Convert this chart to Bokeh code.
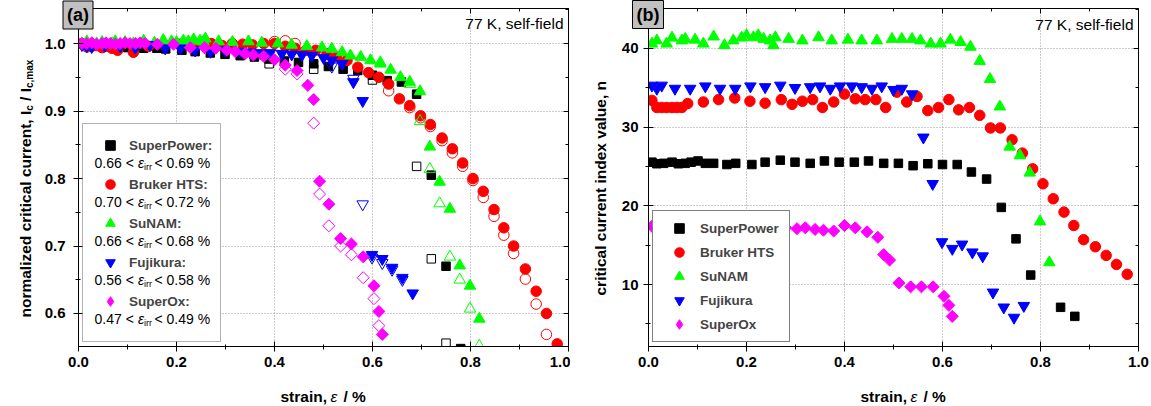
import numpy as np
from bokeh.plotting import figure
from bokeh.models import (Range1d, FixedTicker, LinearAxis, Label, Legend, LegendItem,
                          BoxAnnotation, PrintfTickFormatter)
from bokeh.core.properties import value
from bokeh.layouts import row
from bokeh.embed import file_html
from bokeh.resources import INLINE

FONT = "Liberation Sans"
nan = np.nan

# ---------------- data ----------------
names = ["SuperPower", "Bruker HTS", "SuNAM", "Fujikura", "SuperOx"]
colors = ["#000000", "#ff0000", "#00ff00", "#0000ff", "#ff00ff"]
eirr_lo = [0.66, 0.70, 0.66, 0.56, 0.47]
eirr_hi = [0.69, 0.72, 0.68, 0.58, 0.49]

sp_strain = [0.007, 0.017, 0.031, 0.048, 0.061, 0.075, 0.087, 0.101, 0.116, 0.133, 0.16, 0.178,
             0.211, 0.238, 0.269, 0.299, 0.33, 0.359, 0.389, 0.42, 0.449, 0.48, 0.51, 0.54, 0.57,
             0.6, 0.63, 0.659, 0.69, 0.72, 0.75, 0.78, 0.841, 0.87]
sp_ic = [1.0, 0.998, 0.997, 0.996, 0.996, 0.995, 0.995, 0.994, 0.994, 0.993, 0.993, 0.992,
         0.99, 0.988, 0.986, 0.984, 0.982, 0.98, 0.977, 0.974, 0.972, 0.97, 0.966, 0.962, 0.96,
         0.953, 0.945, 0.943, 0.925, 0.805, 0.67, 0.548, nan, nan]
sp_n = [25.55, 25.35, 25.4, 25.55, 25.35, 25.4, 25.55, 25.7, 25.4, 25.4, 25.25, 25.4, 25.25,
        25.55, 25.8, 25.55, 25.4, 25.7, 25.55, 25.55, 25.7, 25.4, 25.4, 25.1, 25.35, 25.25,
        25.25, 24.3, 23.4, 19.8, 15.8, 11.2, 7.1, 5.95]
sp_open_strain = [0.389, 0.48, 0.6, 0.69, 0.72, 0.75]
sp_open_ic = [0.97, 0.962, 0.946, 0.818, 0.681, 0.556]

br_strain = [0.007, 0.017, 0.027, 0.037, 0.048, 0.058, 0.068, 0.08, 0.112, 0.143, 0.176, 0.207,
             0.238, 0.271, 0.293, 0.314, 0.335, 0.355, 0.378, 0.4, 0.422, 0.442, 0.464, 0.484,
             0.507, 0.527, 0.548, 0.57, 0.592, 0.613, 0.633, 0.655, 0.676, 0.698, 0.718, 0.742,
             0.763, 0.784, 0.805, 0.826, 0.848, 0.868, 0.888, 0.912, 0.934, 0.955, 0.977]
br_ic = [1.0, 0.995, 0.996, 0.997, 0.994, 0.996, 0.993, 0.99, 0.987, 0.996, 0.998, 0.999,
         0.998, 1.0, 0.997, 1.0, 0.999, 0.998, 1.0, 1.0, 0.996, 0.993, 0.99, 0.99,
         0.985, 0.98, 0.975, 0.965, 0.957, 0.95, 0.94, 0.918, 0.908, 0.893, 0.88, 0.86,
         0.844, 0.823, 0.80, 0.781, 0.754, 0.727, 0.70, 0.666, 0.633, 0.60, 0.555]
br_n = [33.4, 32.5, 32.5, 32.5, 32.5, 32.5, 32.5, 33.0, 33.2, 33.5, 33.7, 33.3,
        33.05, 33.5, 32.9, 33.3, 33.5, 32.5, 33.2, 34.2, 33.6, 33.5, 33.5, 32.5,
        34.45, 33.2, 33.9, 32.1, 32.5, 33.5, 32.2, 32.5, 31.5, 29.9, 29.9, 28.4,
        26.7, 24.7, 22.8, 20.9, 19.2, 17.5, 15.7, 14.8, 13.7, 12.55, 11.3]
br_open_strain = [0.4, 0.422, 0.442, 0.633, 0.676, 0.698, 0.718, 0.742, 0.763, 0.784, 0.805,
                  0.826, 0.848, 0.868, 0.888, 0.912, 0.934, 0.955]
br_open_ic = [1.003, 1.004, 1.0, 0.93, 0.905, 0.89, 0.877, 0.856, 0.838, 0.818, 0.797,
              0.772, 0.744, 0.716, 0.689, 0.651, 0.614, 0.569]

su_strain = [0.007, 0.017, 0.037, 0.048, 0.068, 0.075, 0.095, 0.112, 0.133, 0.155, 0.173, 0.19,
             0.2, 0.214, 0.224, 0.235, 0.248, 0.255, 0.259, 0.286, 0.314, 0.347, 0.374, 0.407,
             0.435, 0.466, 0.497, 0.517, 0.538, 0.555, 0.576, 0.596, 0.616, 0.637, 0.657, 0.676,
             0.697, 0.717, 0.737, 0.758, 0.778, 0.799, 0.818]
su_ic = [1.0, 1.003, 1.0, 1.002, 1.0, 1.003, 1.002, 1.0, 1.004, 1.001, 1.005, 1.003,
         1.002, 1.004, 1.003, 1.006, 1.004, 1.003, 1.007, 1.003, 1.002, 1.003, 1.001, 1.0,
         0.998, 0.996, 0.994, 0.992, 0.987, 0.982, 0.98, 0.975, 0.97, 0.961, 0.95, 0.943,
         0.929, 0.847, 0.795, 0.755, 0.671, 0.641, 0.592]
su_n = [40.6, 41.0, 40.6, 41.36, 41.0, 41.2, 41.1, 40.6, 41.5, 40.4, 41.0, 41.36,
        41.65, 41.4, 41.65, 41.2, 41.0, 40.4, 41.4, 41.2, 41.0, 41.4, 41.0, 41.1,
        41.0, 41.0, 41.2, 41.2, 41.2, 41.0, 40.6, 40.6, 41.1, 40.8, 40.2, 38.4,
        36.1, 32.6, 27.5, 26.4, 24.2, 18.0, 12.8]
su_open_strain = [0.616, 0.676, 0.697, 0.717, 0.737, 0.758, 0.778, 0.799, 0.818]
su_open_ic = [0.972, 0.94, 0.885, 0.814, 0.763, 0.684, 0.65, 0.607, 0.552]

fu_strain = [0.007, 0.017, 0.027, 0.054, 0.085, 0.116, 0.146, 0.177, 0.208, 0.238, 0.269, 0.299,
             0.33, 0.35, 0.371, 0.391, 0.415, 0.435, 0.456, 0.476, 0.5, 0.517, 0.538, 0.561,
             0.58, 0.599, 0.62, 0.64, 0.661, 0.682, 0.703, 0.725, 0.746, 0.766]
fu_ic = [0.998, 0.996, 0.995, 0.997, 0.996, 0.994, 0.998, 0.993, 0.993, 0.99, 0.988, 0.99,
         0.988, 0.987, 0.986, 0.986, 0.985, 0.984, 0.983, 0.982, 0.979, 0.975, 0.97, 0.943,
         0.915, 0.687, 0.681, 0.668, 0.653, 0.63, nan, nan, nan, nan]
fu_n = [35.3, 34.9, 35.3, 34.9, 34.9, 35.2, 34.9, 34.9, 35.2, 35.1, 35.3, 35.0,
        35.1, 35.2, 34.9, 35.2, 35.2, 35.1, 34.9, 35.2, 34.75, 34.9, 34.2, 28.7,
        22.8, 15.4, 14.55, 15.1, 14.1, 13.6, 9.0, 7.1, 5.8, 7.3]
fu_open_strain = [0.517, 0.561, 0.58, 0.599, 0.62, 0.64, 0.661]
fu_open_ic = [0.966, 0.948, 0.762, 0.683, 0.675, 0.665, 0.65]

so_strain = [0.007, 0.017, 0.027, 0.037, 0.048, 0.056, 0.065, 0.075, 0.085, 0.095, 0.105, 0.116,
             0.126, 0.136, 0.161, 0.194, 0.228, 0.257, 0.28, 0.303, 0.32, 0.34, 0.357, 0.378,
             0.4, 0.422, 0.446, 0.468, 0.48, 0.492, 0.511, 0.535, 0.557, 0.581, 0.603, 0.613, 0.62]
so_ic = [1.0, 1.0, 1.001, 0.999, 1.0, 1.001, 1.0, 0.999, 1.0, 1.001, 1.0, 1.0,
         1.001, 1.0, 0.999, 0.999, 0.994, 0.994, 0.993, 0.99, 0.988, 0.985, 0.983, 0.981,
         0.976, 0.968, 0.96, 0.938, 0.917, 0.796, 0.762, 0.711, 0.703, 0.684, 0.641, 0.603, 0.569]
so_n = [17.4, 17.3, 17.5, 17.2, 17.4, 17.7, 17.1, 16.9, 17.2, 17.3, 17.1, 17.4,
        17.5, 17.0, 16.7, 16.8, 16.7, 16.9, 17.2, 17.1, 17.2, 17.0, 16.9, 16.8,
        17.5, 17.2, 16.7, 16.0, 13.8, 13.1, 10.2, 9.7, 9.7, 9.7, 8.5, 7.35, 5.95]
so_open_strain = [0.422, 0.446, 0.48, 0.492, 0.511, 0.535, 0.557, 0.581, 0.603, 0.613]
so_open_ic = [0.962, 0.955, 0.882, 0.777, 0.73, 0.70, 0.687, 0.653, 0.622, 0.582]

strains = [sp_strain, br_strain, su_strain, fu_strain, so_strain]
ics = [sp_ic, br_ic, su_ic, fu_ic, so_ic]
ns = [sp_n, br_n, su_n, fu_n, so_n]
open_strains = [sp_open_strain, br_open_strain, su_open_strain, fu_open_strain, so_open_strain]
open_ics = [sp_open_ic, br_open_ic, su_open_ic, fu_open_ic, so_open_ic]

x_ticks = [0.0, 0.2, 0.4, 0.6, 0.8, 1.0]
x_minor = [0.1, 0.3, 0.5, 0.7, 0.9]
ya_ticks = [0.6, 0.7, 0.8, 0.9, 1.0]
ya_minor = [0.55, 0.65, 0.75, 0.85, 0.95, 1.05]
yb_ticks = [10, 20, 30, 40]
yb_minor = [5, 15, 25, 35, 45]

YA = (0.5511, 1.0519)
YB = (2.12, 45.08)

# marker styles: (marker, size, angle)
mstyle = [("square", 8.5, 0.0), ("circle", 10.5, 0.0), ("triangle", 11.5, 0.0),
          ("inverted_triangle", 11.5, 0.0), ("square", 8.5, np.pi / 4)]


def mk_conv(L, yr):
    y0, y1 = yr
    fx = lambda px: (px - L) / 490.0
    fy = lambda py: y1 - (py - 8) / 338.0 * (y1 - y0)
    return fx, fy


def make_fig(width, left, right, yr, yt, ym, yfmt, ystand):
    p = figure(width=width, height=406, output_backend="svg", toolbar_location=None,
               x_range=Range1d(0, 1.0), y_range=Range1d(*yr),
               min_border_left=left, min_border_right=right, min_border_top=8,
               min_border_bottom=60)
    p.outline_line_color = "black"
    p.outline_line_width = 1
    xt = FixedTicker(ticks=x_ticks, minor_ticks=x_minor)
    ytk = FixedTicker(ticks=yt, minor_ticks=ym)
    for ax, tk in ((p.xaxis[0], xt), (p.yaxis[0], ytk)):
        ax.ticker = tk
        ax.axis_line_color = "black"
        ax.major_tick_line_color = "black"
        ax.minor_tick_line_color = "black"
        ax.major_tick_in = 5
        ax.major_tick_out = 5
        ax.minor_tick_in = 2
        ax.minor_tick_out = 3
        ax.major_label_text_font = FONT
        ax.major_label_text_font_style = "bold"
        ax.major_label_text_font_size = "15px"
        ax.major_label_text_color = "black"
    p.xaxis[0].formatter = PrintfTickFormatter(format="%.1f")
    p.yaxis[0].formatter = PrintfTickFormatter(format=yfmt)
    p.xaxis[0].major_label_standoff = 5
    p.yaxis[0].major_label_standoff = ystand
    for loc, tk in (("above", xt), ("right", ytk)):
        ax = LinearAxis(ticker=tk, major_label_text_font_size="1px", major_label_standoff=0,
                        major_label_text_color=None, major_label_text_alpha=0,
                        major_tick_in=5, major_tick_out=0, minor_tick_in=3, minor_tick_out=0,
                        axis_line_color="black", major_tick_line_color="black",
                        minor_tick_line_color="black")
        p.add_layout(ax, loc)
    p.xgrid.ticker = xt
    p.ygrid.ticker = ytk
    for g in (p.xgrid, p.ygrid):
        g.grid_line_color = "#999999"
        g.grid_line_dash = "1 2"
        g.grid_line_width = 1
    return p


def text(p, x, y, s, size, style="normal", align="left", baseline="middle", angle=0.0, **kw):
    p.add_layout(Label(x=x, y=y, text=s, text_font=FONT, text_font_size=size,
                       text_font_style=style, text_align=align, text_baseline=baseline,
                       angle=angle, text_color="black", **kw))


def otext(p, x, y, s, size, style="normal", align="left", baseline="middle", angle=0.0,
          xo=0.0, yo=0.0, **kw):
    # text glyph at overlay level (drawn outside the frame too)
    p.text(x=[x], y=[y], text=[s], text_font=value(FONT), text_font_size=size,
           text_font_style=style, text_align=align, text_baseline=baseline, angle=angle,
           x_offset=xo, y_offset=yo, text_color="black", level="overlay", **kw)


a90 = np.pi / 2

# ---------------- panel (a) ----------------
pa = make_fig(570, 78, 2, YA, ya_ticks, ya_minor, "%.1f", 8)
fx, fy = mk_conv(78, YA)
filled_a = []
for i in range(5):
    mk, sz, ang = mstyle[i]
    pa.scatter(open_strains[i], open_ics[i], marker=mk, size=sz, angle=ang,
               fill_color=None, line_color=colors[i], line_width=1)
    r = pa.scatter(strains[i], ics[i], marker=mk, size=sz, angle=ang,
                   fill_color=colors[i], line_color=colors[i], line_width=1)
    filled_a.append(r)
# legend swatch for the diamond series (legend does not rotate markers)
proxy_a = pa.scatter([nan], [nan], marker="diamond", fill_color=colors[4], line_color=colors[4])
leg_r_a = filled_a[:4] + [proxy_a]

pa.add_layout(BoxAnnotation(left=fx(82), right=fx(220), top=fy(123), bottom=fy(341),
                            fill_color="white", fill_alpha=1.0, line_color="black",
                            line_width=1))
leg_a = Legend(items=[LegendItem(label=names[i] + ":", renderers=[leg_r_a[i]]) for i in range(5)],
               location=(4, 23), padding=10, spacing=15, glyph_height=24, label_height=24,
               glyph_width=36, label_standoff=1, label_width=86, margin=0,
               label_text_font=FONT, label_text_font_style="bold", label_text_font_size="13.5px",
               label_text_align="left",
               background_fill_alpha=0, border_line_alpha=0)
pa.add_layout(leg_a)
for k in range(5):
    yy = fy(162.3 + 39.1 * k)
    text(pa, fx(94), yy, "%.2f <" % eirr_lo[k], "14px")
    text(pa, fx(137.5), yy, "\u03b5", "14px", style="italic")
    text(pa, fx(143.5), fy(162.3 + 39.1 * k + 4), "irr", "9px")
    text(pa, fx(154), yy, "< %.2f %%" % eirr_hi[k], "14px")

text(pa, fx(563), fy(23), "77 K, self-field", "15.5px", align="right")
otext(pa, 0.0, fy(14.5), "(a)", "18px", style="bold", align="center", xo=-0.5,
      background_fill_color="#c0c0c0", border_line_color="black", padding=4)
# y label (outside frame)
otext(pa, 0.0, fy(317), "normalized critical current, I", "15.5px", style="bold",
      baseline="alphabetic", angle=a90, xo=-53)
otext(pa, 0.0, fy(110.3), "c", "10px", style="bold", baseline="alphabetic", angle=a90, xo=-49.5)
otext(pa, 0.0, fy(100.4), "/ I", "15.5px", style="bold", baseline="alphabetic", angle=a90, xo=-53)
otext(pa, 0.0, fy(87.5), "c,max", "10px", style="bold", baseline="alphabetic", angle=a90, xo=-49.5)
# x label
otext(pa, fx(280), YA[0], "strain,", "15.5px", style="bold", baseline="alphabetic", yo=50)
otext(pa, fx(330), YA[0], "\u03b5", "15.5px", style="italic", baseline="alphabetic", yo=50)
otext(pa, fx(343), YA[0], "/ %", "15.5px", style="bold", baseline="alphabetic", yo=50)

# ---------------- panel (b) ----------------
pb = make_fig(581, 78, 13, YB, yb_ticks, yb_minor, "%d", 5)
gx, gy = mk_conv(648, YB)
filled_b = []
for i in range(5):
    mk, sz, ang = mstyle[i]
    r = pb.scatter(strains[i], ns[i], marker=mk, size=sz, angle=ang,
                   fill_color=colors[i], line_color=colors[i], line_width=1)
    filled_b.append(r)
proxy_b = pb.scatter([nan], [nan], marker="diamond", fill_color=colors[4], line_color=colors[4])
leg_r_b = filled_b[:4] + [proxy_b]
leg_b = Legend(items=[LegendItem(label=names[i], renderers=[leg_r_b[i]]) for i in range(5)],
               location=(4, 4), padding=5, spacing=-7, glyph_height=24, label_height=24,
               glyph_width=42, label_standoff=0, label_width=84, margin=0,
               label_text_font=FONT, label_text_font_style="bold", label_text_font_size="13.5px",
               background_fill_color="white", background_fill_alpha=1.0,
               border_line_color="black", border_line_width=1)
pb.add_layout(leg_b)
text(pb, gx(1133), gy(24), "77 K, self-field", "15.5px", align="right")
otext(pb, 0.0, gy(14), "(b)", "18px", style="bold", align="center", xo=-0.5,
      background_fill_color="#c0c0c0", border_line_color="black", padding=4)
otext(pb, 0.0, gy(295), "critical current index value, n", "15.5px", style="bold",
      baseline="alphabetic", angle=a90, xo=-48)
otext(pb, gx(860), YB[0], "strain,", "15.5px", style="bold", baseline="alphabetic", yo=50)
otext(pb, gx(910), YB[0], "\u03b5", "15.5px", style="italic", baseline="alphabetic", yo=50)
otext(pb, gx(923), YB[0], "/ %", "15.5px", style="bold", baseline="alphabetic", yo=50)

layout = row(pa, pb)
open("out.html", "w").write(file_html(layout, INLINE))
